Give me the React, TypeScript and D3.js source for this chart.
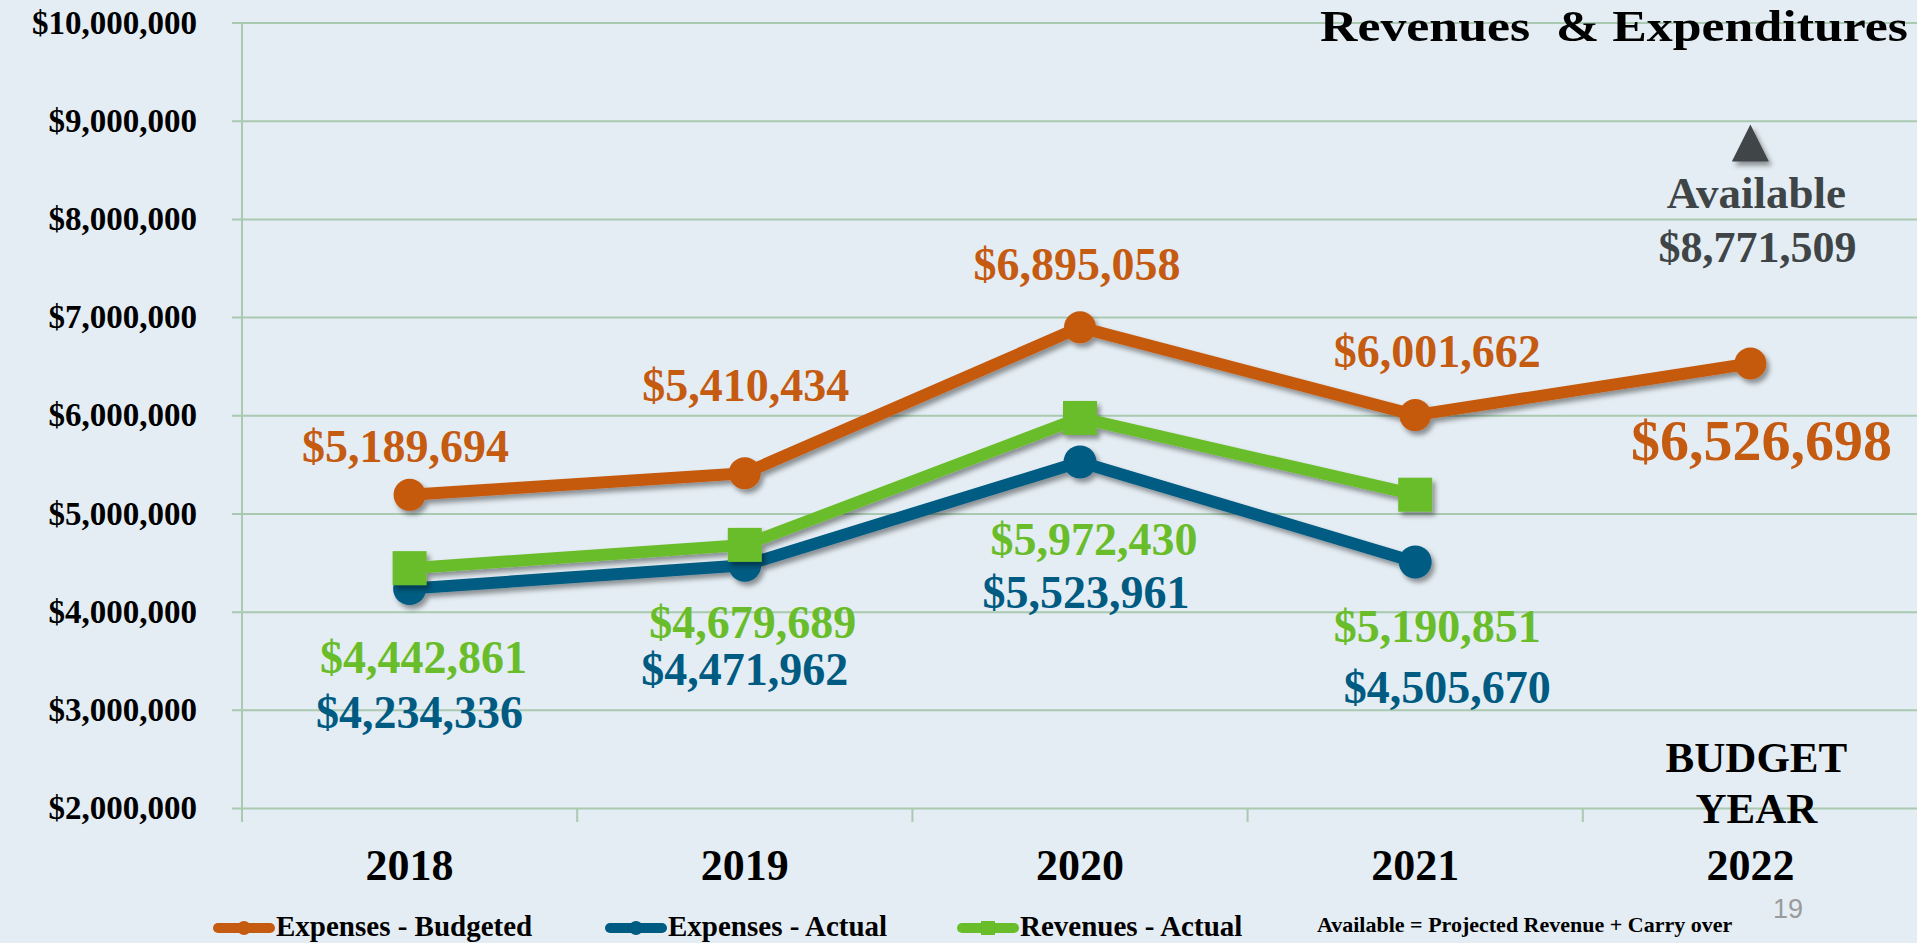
import { useEffect, useRef } from 'react';
import * as d3 from 'd3';

// chart data
const years = ['2018', '2019', '2020', '2021', '2022'];
const expensesBudgeted = [5189694, 5410434, 6895058, 6001662, 6526698];
const expensesActual = [4234336, 4471962, 5523961, 4505670];
const revenuesActual = [4442861, 4679689, 5972430, 5190851];
const availableValue = 8771509;
const yTicks = [2000000, 3000000, 4000000, 5000000, 6000000, 7000000, 8000000, 9000000, 10000000];
const legendNames = ['Expenses - Budgeted', 'Expenses - Actual', 'Revenues - Actual'];

// label placement relative to each point (layout only)
const budgetedLabelOffsets = [[-4, -33], [1, -72], [-3, -47], [22, -48], [11, 96]];
const actualLabelOffsets = [[10, 139], [0, 120], [6, 146], [32, 141]];
const revenueLabelOffsets = [[14, 105], [8, 93], [14, 137], [22, 147]];

const ORANGE = '#c55a11';
const BLUE = '#005b82';
const GREEN = '#6abd2a';
const GRAY = '#3f4547';
const GRID = '#a9c9b1';
const FONT = '"Liberation Serif", "Times New Roman", serif';

function RevenueChart() {
  const ref = useRef(null);

  useEffect(() => {
    const width = 1917;
    const height = 943;
    const svg = d3.select(ref.current);
    svg.selectAll('*').remove();
    svg.attr('width', width).attr('height', height);

    svg.append('rect').attr('width', width).attr('height', height).attr('fill', '#e4edf3');

    const defs = svg.append('defs');
    defs.append('filter')
      .attr('id', 'shadow')
      .attr('x', '-20%').attr('y', '-20%').attr('width', '140%').attr('height', '160%')
      .append('feDropShadow')
      .attr('dx', 3).attr('dy', 4).attr('stdDeviation', 2.5)
      .attr('flood-color', '#000').attr('flood-opacity', 0.4);

    const left = 242;
    const x = d3.scaleBand().domain(years).range([left, 1918]).padding(0);
    const cx = (yr) => x(yr) + x.bandwidth() / 2;
    const y = d3.scaleLinear().domain([2000000, 10000000]).range([808, 22.5]);

    // y axis + gridlines
    const yAxis = d3.axisLeft(y)
      .tickValues(yTicks)
      .tickFormat(d3.format('$,'))
      .tickSize(-(1918 - left))
      .tickPadding(45);
    const gy = svg.append('g').attr('transform', `translate(${left},0)`).call(yAxis);
    gy.select('.domain').remove();
    gy.selectAll('.tick line').attr('x1', -10).attr('stroke', GRID).attr('stroke-width', 2);
    gy.selectAll('.tick text')
      .attr('font-family', FONT).attr('font-weight', 'bold').attr('font-size', 33)
      .attr('fill', '#000');

    // vertical axis line and category ticks
    svg.append('line')
      .attr('x1', left).attr('x2', left).attr('y1', 22.5).attr('y2', 822)
      .attr('stroke', GRID).attr('stroke-width', 2);
    svg.append('g').selectAll('line')
      .data(years.slice(1))
      .join('line')
      .attr('x1', (d) => x(d)).attr('x2', (d) => x(d))
      .attr('y1', 808).attr('y2', 822)
      .attr('stroke', GRID).attr('stroke-width', 2);

    // x labels
    const xAxis = d3.axisBottom(x).tickSize(0).tickPadding(41);
    const gx = svg.append('g').attr('transform', 'translate(0,808)').call(xAxis);
    gx.select('.domain').remove();
    gx.selectAll('.tick text')
      .attr('font-family', FONT).attr('font-weight', 'bold').attr('font-size', 44)
      .attr('fill', '#000');

    const line = d3.line()
      .x((d, i) => cx(years[i]))
      .y((d) => y(d));

    // expenses actual
    const gBlue = svg.append('g').attr('filter', 'url(#shadow)');
    gBlue.append('path').datum(expensesActual)
      .attr('d', line).attr('fill', 'none')
      .attr('stroke', BLUE).attr('stroke-width', 12).attr('stroke-linejoin', 'round');
    gBlue.selectAll('circle').data(expensesActual).join('circle')
      .attr('cx', (d, i) => cx(years[i])).attr('cy', (d) => y(d)).attr('r', 16.5)
      .attr('fill', BLUE);

    // revenues actual
    const gGreen = svg.append('g').attr('filter', 'url(#shadow)');
    gGreen.append('path').datum(revenuesActual)
      .attr('d', line).attr('fill', 'none')
      .attr('stroke', GREEN).attr('stroke-width', 12).attr('stroke-linejoin', 'round');
    gGreen.selectAll('rect').data(revenuesActual).join('rect')
      .attr('x', (d, i) => cx(years[i]) - 17).attr('y', (d) => y(d) - 17)
      .attr('width', 34).attr('height', 34)
      .attr('fill', GREEN);

    // expenses budgeted
    const gOrange = svg.append('g').attr('filter', 'url(#shadow)');
    gOrange.append('path').datum(expensesBudgeted)
      .attr('d', line).attr('fill', 'none')
      .attr('stroke', ORANGE).attr('stroke-width', 12).attr('stroke-linejoin', 'round');
    gOrange.selectAll('circle').data(expensesBudgeted).join('circle')
      .attr('cx', (d, i) => cx(years[i])).attr('cy', (d) => y(d)).attr('r', 16)
      .attr('fill', ORANGE);

    // available marker
    const ax = cx(years[4]);
    const ay = y(availableValue);
    svg.append('path')
      .attr('d', `M${ax},${ay - 18.5}L${ax + 18.5},${ay + 18.5}L${ax - 18.5},${ay + 18.5}Z`)
      .attr('fill', GRAY).attr('filter', 'url(#shadow)');

    // data labels
    const fmt = d3.format('$,');
    const addLabels = (values, offsets, color, sizes) => {
      svg.append('g').selectAll('text').data(values).join('text')
        .attr('x', (d, i) => cx(years[i]) + offsets[i][0])
        .attr('y', (d, i) => y(d) + offsets[i][1])
        .attr('text-anchor', 'middle')
        .attr('font-family', FONT).attr('font-weight', 'bold')
        .attr('font-size', (d, i) => sizes(i))
        .attr('fill', color)
        .text((d) => fmt(d));
    };
    addLabels(expensesBudgeted, budgetedLabelOffsets, ORANGE, (i) => (i === 4 ? 58 : 46));
    addLabels(revenuesActual, revenueLabelOffsets, GREEN, () => 46);
    addLabels(expensesActual, actualLabelOffsets, BLUE, () => 46);

    // available annotation
    svg.append('text')
      .attr('x', ax + 6).attr('y', 208)
      .attr('text-anchor', 'middle')
      .attr('font-family', FONT).attr('font-weight', 'bold').attr('font-size', 45)
      .attr('fill', GRAY).text('Available');
    svg.append('text')
      .attr('x', ax + 7).attr('y', 262)
      .attr('text-anchor', 'middle')
      .attr('font-family', FONT).attr('font-weight', 'bold').attr('font-size', 44)
      .attr('fill', GRAY).text(fmt(availableValue));

    // title
    svg.append('text')
      .attr('x', 1908).attr('y', 41)
      .attr('text-anchor', 'end')
      .attr('font-family', FONT).attr('font-weight', 'bold').attr('font-size', 45)
      .attr('textLength', 588).attr('lengthAdjust', 'spacingAndGlyphs')
      .attr('fill', '#000')
      .style('white-space', 'pre')
      .text('Revenues  & Expenditures');

    // budget year label
    svg.append('text')
      .attr('x', ax + 6).attr('y', 772)
      .attr('text-anchor', 'middle')
      .attr('font-family', FONT).attr('font-weight', 'bold').attr('font-size', 43)
      .attr('fill', '#000').text('BUDGET');
    svg.append('text')
      .attr('x', ax + 6).attr('y', 823)
      .attr('text-anchor', 'middle')
      .attr('font-family', FONT).attr('font-weight', 'bold').attr('font-size', 43)
      .attr('fill', '#000').text('YEAR');

    // legend
    const legendColors = [ORANGE, BLUE, GREEN];
    const legendX = [213, 605, 957];
    const ly = 928;
    legendNames.forEach((name, i) => {
      const g = svg.append('g').attr('transform', `translate(${legendX[i]},${ly})`);
      g.append('line')
        .attr('x1', 5).attr('x2', 57)
        .attr('stroke', legendColors[i]).attr('stroke-width', 10).attr('stroke-linecap', 'round');
      if (i === 2) {
        g.append('rect').attr('x', 24).attr('y', -7).attr('width', 14).attr('height', 14)
          .attr('fill', legendColors[i]);
      } else {
        g.append('circle').attr('cx', 31).attr('r', 7).attr('fill', legendColors[i]);
      }
      g.append('text')
        .attr('x', 63).attr('y', 8)
        .attr('font-family', FONT).attr('font-weight', 'bold').attr('font-size', 29)
        .attr('fill', '#000').text(name);
    });

    svg.append('text')
      .attr('x', 1317).attr('y', 932)
      .attr('font-family', FONT).attr('font-weight', 'bold').attr('font-size', 22)
      .attr('fill', '#000').text('Available = Projected Revenue + Carry over');

    svg.append('text')
      .attr('x', 1773).attr('y', 918)
      .attr('font-family', '"Liberation Sans", Arial, sans-serif').attr('font-size', 27)
      .attr('fill', '#9a9a9a').text('19');
  }, []);

  return <svg ref={ref} style={{ position: 'absolute', left: 0, top: 0, display: 'block' }}></svg>;
}

export default function App() {
  return <RevenueChart />;
}
